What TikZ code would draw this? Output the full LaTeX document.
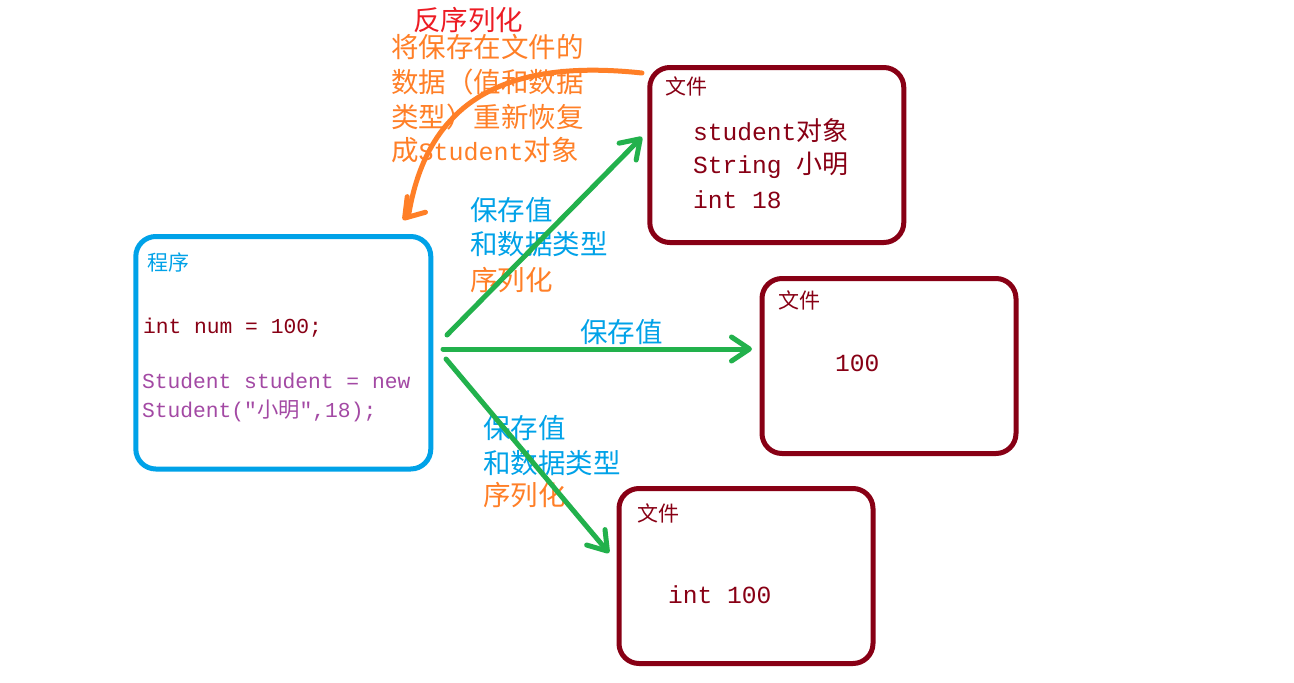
\documentclass[tikz,border=0pt]{standalone}
\usepackage{fontspec}
\setmainfont{Noto Sans CJK SC}
\setmonofont{Liberation Mono}
\usetikzlibrary{arrows.meta}
\definecolor{pblue}{HTML}{00A2E8}
\definecolor{dred}{HTML}{880015}
\definecolor{pgreen}{HTML}{22B14C}
\definecolor{porange}{HTML}{FF7F27}
\definecolor{pred}{HTML}{ED1C24}
\definecolor{ppurple}{HTML}{A349A4}
\newcommand\codeA{\fontsize{21.3}{26}\selectfont\ttfamily}
\newcommand\codeB{\fontsize{24.6}{30}\selectfont\ttfamily}
\newcommand\cjB{\fontsize{26}{30}\selectfont\rmfamily}
\begin{document}
\begin{tikzpicture}[x=1pt,y=-1pt,
  box/.style={draw, line width=5pt, rounded corners=20pt, anchor=north west, inner sep=0pt, outer sep=0pt},
  filebox/.style={box, draw=dred, minimum width=254pt, minimum height=175pt},
  txt/.style={anchor=base west, inner sep=0pt, outer sep=0pt},
  big/.style={txt, font=\fontsize{27.5}{32}\selectfont},
  small/.style={txt, font=\fontsize{21}{26}\selectfont},
  arr/.style={line width=5pt, pgreen, line cap=round, -{Straight Barb[length=18pt,width=24pt,round]}},
  oarr/.style={line width=5pt, porange, line cap=round, line join=round, -{Straight Barb[length=18pt,width=24pt,round]}}
]
\useasboundingbox (0,0) rectangle (1294,683);
\fill[white] (0,0) rectangle (1294,683);

% boxes
\node[box, draw=pblue, minimum width=295pt, minimum height=232.5pt] (prog) at (135.8,236.5) {};
\node[filebox] (f1) at (649.8,67.5) {};
\node[filebox] (f2) at (762,278.5) {};
\node[filebox] (f3) at (619,488.5) {};

% program box text
\node[small, pblue] (p0) at (147,270) {程序};
\node[txt, font=\codeA, dred] (p1) at (143,333) {int num = 100;};
\node[txt, font=\codeA, ppurple] (p2) at (142,388) {Student student = new};
\node[txt, font=\codeA, ppurple] (p3) at (142,417) {Student("{\rmfamily 小明}",18);};

% file 1
\node[small, dred] (f1t) at (665,94) {文件};
\node[txt, dred] (f1a) at (693,140) {{\codeB student}{\cjB 对象}};
\node[txt, dred] (f1b) at (693,173) {{\codeB String }{\cjB 小明}};
\node[txt, dred] (f1c) at (693,208) {{\codeB int 18}};

% file 2
\node[small, dred] (f2t) at (778,308) {文件};
\node[txt, dred] (f2a) at (835,371) {{\codeB 100}};

% file 3
\node[small, dred] (f3t) at (637,521) {文件};
\node[txt, dred] (f3a) at (668,603) {{\codeB int 100}};

% deserialization text
\node[big, pred] (d0) at (413,30) {反序列化};
\node[big, porange] (d1) at (391,57) {将保存在文件的};
\node[big, porange] (d2) at (391,92) {数据（值和数据};
\node[big, porange] (d3) at (391,127) {类型）重新恢复};
\node[big, porange] (d4) at (391,160) {成{\fontsize{25}{30}\selectfont\ttfamily Student}对象};

% arrow labels
\node[big, pblue] (u1) at (470,220) {保存值};
\node[big, pblue] (u2) at (470,254) {和数据类型};
\node[big, porange] (u3) at (470,290) {序列化};
\node[big, pblue] (m1) at (580,342) {保存值};
\node[big, pblue] (l1) at (483,438) {保存值};
\node[big, pblue] (l2) at (483,473) {和数据类型};
\node[big, porange] (l3) at (483,505) {序列化};

% connectors
\coordinate (s1) at (447,335);
\coordinate (e1) at (642,137);
\coordinate (s2) at (443,349);
\coordinate (e2) at (752,349);
\coordinate (s3) at (446,359);
\coordinate (e3) at (609,553);
\coordinate (os) at (642,73);
\coordinate (ok) at (409,213);
\coordinate (oe) at (403,220);
\draw[arr] (s1) -- (e1);
\draw[arr] (s2) -- (e2);
\draw[arr] (s3) -- (e3);
\draw[oarr] (os) .. controls (520,60) and (430,90) .. (ok) -- (oe);
\end{tikzpicture}
\end{document}
